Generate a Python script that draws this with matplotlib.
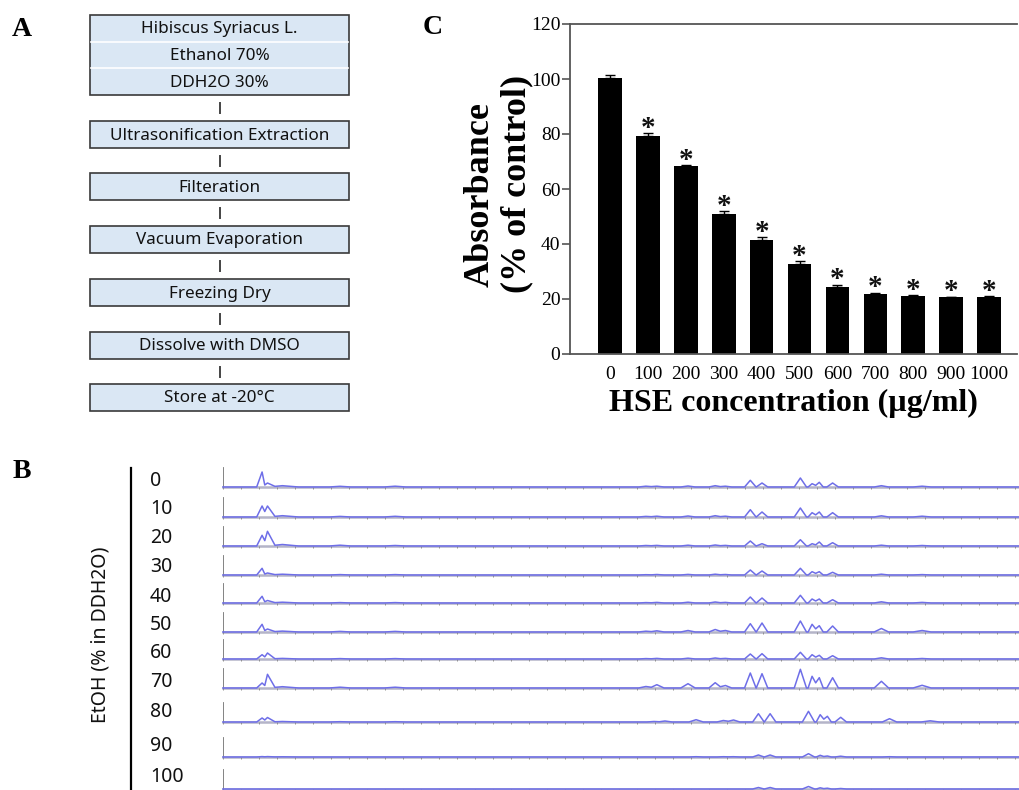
import numpy as np
import matplotlib.pyplot as plt
from matplotlib.patches import Rectangle

# ---- data ----
extract_head = ["Hibiscus Syriacus L.", "Ethanol 70%", "DDH2O 30%"]
steps = ["Ultrasonification Extraction", "Filteration", "Vacuum Evaporation",
         "Freezing Dry", "Dissolve with DMSO", "Store at -20°C"]

etoh_labels = ["0", "10", "20", "30", "40", "50", "60", "70", "80", "90", "100"]

# retention positions of peaks (tick units), rows 0-70 and rows 80-100 (late peaks shifted)
rt_early = [2.17, 2.47, 3.3, 6.5, 9.56, 23.48, 24.09, 25.82, 27.33, 27.9,
            29.28, 29.93, 32.06, 32.71, 33.11, 33.85, 36.56, 38.82]
rt_late = [2.17, 2.47, 3.3, 6.5, 9.56, 23.93, 24.54, 26.27, 27.78, 28.35,
           29.73, 30.38, 32.51, 33.16, 33.56, 34.30, 37.01, 39.27]
peak_w = [0.3, 0.28, 0.9, 0.6, 0.6, 0.4, 0.4, 0.4, 0.35, 0.35,
          0.32, 0.32, 0.34, 0.22, 0.22, 0.32, 0.4, 0.5]
# peak heights per EtOH row
peak_h = [
    [15, 4, 1.3, 0.7, 0.8, 0.8, 0.8, 1.0, 1.3, 0.8, 6.7, 4.0, 9.0, 3.3, 4.7, 4.0, 1.3, 0.8],
    [11, 11, 1.3, 0.6, 0.7, 0.6, 0.8, 1.0, 1.3, 0.8, 7.3, 5.0, 9.0, 4.3, 5.0, 4.3, 1.2, 0.8],
    [10.7, 14.7, 1.5, 0.8, 0.5, 0.5, 0.6, 0.8, 1.0, 0.6, 5.0, 2.3, 6.3, 2.3, 4.0, 3.3, 0.8, 0.5],
    [6.7, 2.0, 0.8, 0.4, 0.4, 0.3, 0.5, 0.6, 0.8, 0.5, 5.0, 4.0, 6.7, 3.3, 3.3, 2.7, 0.8, 0.4],
    [6.7, 2.5, 0.8, 0.4, 0.4, 0.4, 0.6, 0.8, 1.0, 0.6, 6.0, 5.0, 7.7, 4.0, 4.0, 3.3, 1.2, 0.6],
    [7.7, 3.0, 0.9, 0.6, 0.6, 0.8, 1.2, 1.5, 2.5, 1.5, 8.3, 9.0, 11.0, 7.7, 6.3, 6.0, 3.5, 1.5],
    [4.3, 6.0, 0.6, 0.4, 0.4, 0.4, 0.6, 0.8, 1.0, 0.6, 5.0, 5.3, 6.7, 4.3, 3.7, 3.3, 1.2, 0.5],
    [5.0, 13.7, 1.3, 0.8, 0.8, 1.5, 3.3, 4.3, 5.3, 2.5, 15.0, 14.3, 18.7, 11.7, 10.3, 10.3, 6.7, 2.7],
    [4.0, 4.5, 0.5, 0.3, 0.3, 0.5, 1.0, 2.3, 1.5, 2.0, 8.3, 8.3, 10.7, 7.3, 5.7, 4.7, 3.3, 1.2],
    [0.4, 0.4, 0.2, 0, 0, 0, 0, 0.3, 0.3, 0.3, 2.0, 2.0, 3.3, 1.7, 1.0, 0.8, 0.3, 0],
    [0, 0, 0, 0, 0, 0, 0, 0, 0, 0, 1.5, 1.5, 2.5, 1.2, 0.8, 0.5, 0, 0],
]
rt_max = 44.2

conc = ["0", "100", "200", "300", "400", "500", "600", "700", "800", "900", "1000"]
absorb = [100.3, 79.4, 68.2, 50.8, 41.3, 32.7, 24.4, 21.9, 21.0, 20.6, 20.8]
absorb_err = [1.2, 0.9, 0.5, 1.2, 1.2, 1.0, 0.8, 0.4, 0.4, 0.3, 0.3]
signif = [False] + [True] * 10

# ---- figure ----
W, H = 1019, 790
fig = plt.figure(figsize=(W / 100, H / 100), dpi=100)


def fx(px):
    return px / W


def fy(py):
    return 1 - py / H


serif = "Liberation Serif"
sans = "Noto Sans"

# overlay in pixel coordinates for panel A and the B frame
ov = fig.add_axes([0, 0, 1, 1])
ov.set_xlim(0, W)
ov.set_ylim(H, 0)
ov.axis("off")

box_fill = "#dae7f4"
box_edge = "#3a3a3a"
bx0, bx1 = 90, 349
# head box with three rows
head_top, row_h = 15, 26.7
ov.add_patch(Rectangle((bx0, head_top), bx1 - bx0, row_h * 3, facecolor=box_fill,
                       edgecolor=box_edge, lw=1.2))
for i, t in enumerate(extract_head):
    if i > 0:
        ov.plot([bx0 + 1, bx1 - 1], [head_top + row_h * i] * 2, color="white", lw=1.2)
    ov.text((bx0 + bx1) / 2, head_top + row_h * (i + 0.5) + 1, t, ha="center",
            va="center", fontsize=12.3, family=sans, color="#111")

step_top = [121, 173, 226, 279, 332, 384]
prev_bottom = head_top + row_h * 3
for t, top in zip(steps, step_top):
    ov.plot([220, 220], [prev_bottom + (top - prev_bottom) / 2 - 5,
                         prev_bottom + (top - prev_bottom) / 2 + 5], color="#444", lw=1.4)
    ov.add_patch(Rectangle((bx0, top), bx1 - bx0, 27, facecolor=box_fill,
                           edgecolor=box_edge, lw=1.2))
    ov.text((bx0 + bx1) / 2, top + 14.5, t, ha="center", va="center", fontsize=12.3,
            family=sans, color="#111")
    prev_bottom = top + 27

# panel letters
for letter, x, y in [("A", 22, 29), ("B", 22, 472), ("C", 433, 28)]:
    ov.text(x, y, letter, ha="center", va="center", fontsize=20, family=serif,
            fontweight="bold")

# panel B frame
ov.plot([131, 131], [468, 790], color="black", lw=1.6)
ov.text(101, 635, "EtOH (% in DDH2O)", rotation=90, ha="center", va="center",
        fontsize=14, family=sans, color="#111")
label_y = [481, 509, 538, 567, 597, 625, 653, 682, 712, 746, 777]
for lab, y in zip(etoh_labels, label_y):
    ov.text(150, y, lab, ha="left", va="center", fontsize=14, family=sans, color="#111")

# ---- panel B chromatograms ----
axb = fig.add_axes([fx(223), fy(790), (W - 223) / W, 330 / H])
axb.set_xlim(0, rt_max)
axb.set_ylim(0, 330)
axb.axis("off")
row_base = [303, 273, 244, 215, 187, 158, 131, 102, 68, 33, 1]


def trace(rts, hs, ws):
    xs, ys = [0.0], [0.0]
    prev = None
    for rt, h, w in sorted(zip(rts, hs, ws)):
        if h <= 0:
            continue
        if prev is not None and rt - w < prev[0] + prev[2]:
            xs.pop()
            ys.pop()
            xs.append((prev[0] + rt) / 2)
            ys.append(0.5 * min(prev[1], h))
        else:
            xs.append(rt - w)
            ys.append(0.0)
        xs += [rt, rt + w]
        ys += [h, 0.0]
        prev = (rt, h, w)
    xs.append(rt_max)
    ys.append(0.0)
    return np.array(xs), np.array(ys)


grid_x = np.arange(0, rt_max, 1.0)
for i, base in enumerate(row_base):
    rts = rt_early if i < 8 else rt_late
    axb.plot([0, rt_max], [base, base], color="#b4b4c8", lw=1.8, clip_on=False, zorder=1)
    axb.vlines(grid_x, base - 2.2, base, color="#909090", lw=0.7, zorder=1)
    axb.plot([0, 0], [base, base + 19], color="#7a7a7a", lw=1.3, zorder=2)
    xs, ys = trace(rts, peak_h[i], peak_w)
    axb.plot(xs, base + ys, color="#6e6ee8", lw=1.1, clip_on=False, zorder=3,
             solid_joinstyle="round")

# ---- panel C bar chart ----
axc = fig.add_axes([fx(570), fy(354), (1017 - 570) / W, 330 / H])
pos = np.arange(len(conc))
axc.bar(pos, absorb, width=0.62, color="black", zorder=2)
axc.errorbar(pos, absorb, yerr=[np.zeros(len(absorb)), absorb_err], fmt="none",
             ecolor="black", elinewidth=1.0, capsize=3.5, capthick=1.0, zorder=3)
for p, v, e, s in zip(pos, absorb, absorb_err, signif):
    if s:
        axc.annotate("*", (p, v + e), xytext=(0, -2), textcoords="offset points",
                     ha="center", va="baseline", fontsize=21, family=serif,
                     fontweight="bold", color="#111")
axc.set_xlim(-1.06, 10.74)
axc.set_ylim(0, 120)
axc.set_yticks(np.arange(0, 121, 20))
axc.set_xticks(pos)
axc.set_xticklabels(conc)
axc.spines["right"].set_visible(False)
for sp in ["left", "bottom", "top"]:
    axc.spines[sp].set_color("#555")
    axc.spines[sp].set_linewidth(1.3)
axc.tick_params(axis="y", length=6, width=1.2, color="#555", pad=1, labelsize=14)
axc.tick_params(axis="x", length=0, pad=9, labelsize=14)
for lab in axc.get_xticklabels() + axc.get_yticklabels():
    lab.set_family(serif)
axc.set_xlabel("HSE concentration (µg/ml)", family=serif, fontsize=23,
               fontweight="bold", labelpad=4)
ov.text(480, 195, "Absorbance", rotation=90, ha="center", va="center", fontsize=26,
        family=serif, fontweight="bold")
ov.text(517, 184, "(% of control)", rotation=90, ha="center", va="center", fontsize=26,
        family=serif, fontweight="bold")

fig.savefig("out.png", dpi=100)
